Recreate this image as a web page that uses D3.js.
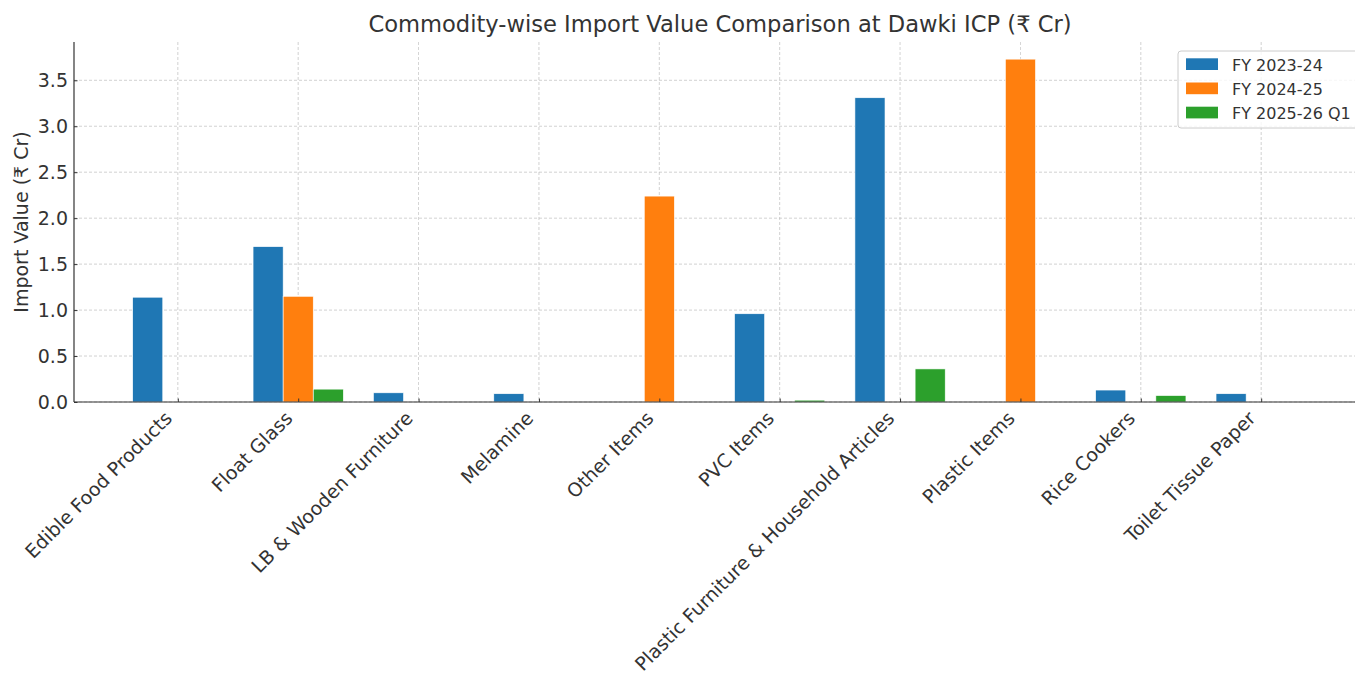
<!DOCTYPE html>
<html><head><meta charset="utf-8">
<script src="https://cdn.jsdelivr.net/npm/d3@7"></script>
<style>body{margin:0;background:#fff}svg, svg text{font-family:"DejaVu Sans",sans-serif}</style>
</head><body><svg id="c" width="1355" height="674"></svg>
<script>
const categories = ["Edible Food Products","Float Glass","LB & Wooden Furniture","Melamine","Other Items","PVC Items","Plastic Furniture & Household Articles","Plastic Items","Rice Cookers","Toilet Tissue Paper"];
const seriesNames = ["FY 2023-24","FY 2024-25","FY 2025-26 Q1"];
const fy2324 = [1.14,1.69,0.10,0.09,0,0.96,3.31,0,0.13,0.09];
const fy2425 = [0,1.15,0,0,2.24,0,0,3.73,0,0];
const fy2526 = [0,0.14,0,0,0,0.02,0.36,0,0.07,0];
const colors = ["#1f77b4","#ff7f0e","#2ca02c"];
const yTicks = [0,0.5,1.0,1.5,2.0,2.5,3.0,3.5];

const series = [fy2324, fy2425, fy2526];
const svg = d3.select("#c");
const L=74, R=1365, T=42, B=402;
const x = d3.scaleLinear().domain([-0.8625, 9.8625]).range([L,R]);
const y = d3.scaleLinear().domain([0, 3.9165]).range([B,T]);
const bw = 0.25;
const FF = "DejaVu Sans";

// grid
svg.append("g").selectAll("line").data(yTicks).join("line")
 .attr("x1",L).attr("x2",R).attr("y1",d=>y(d)).attr("y2",d=>y(d))
 .attr("stroke","#b0b0b0").attr("stroke-width",0.8).attr("stroke-dasharray","3,2").attr("opacity",0.7);
svg.append("g").selectAll("line").data(categories).join("line")
 .attr("x1",(d,i)=>x(i)).attr("x2",(d,i)=>x(i)).attr("y1",T).attr("y2",B)
 .attr("stroke","#b0b0b0").attr("stroke-width",0.8).attr("stroke-dasharray","3,2").attr("opacity",0.7);

// bars
series.forEach((s,k)=>{
  svg.append("g").selectAll("rect").data(s).join("rect")
   .attr("x",(d,i)=>x(i+(k-1)*bw-bw/2))
   .attr("width",x(bw)-x(0))
   .attr("y",d=>y(d)).attr("height",d=>B-y(d))
   .attr("fill",colors[k]).attr("stroke","#fff").attr("stroke-width",0.6);
});

// axes
const xa = svg.append("g").attr("transform",`translate(0,${B})`)
 .call(d3.axisBottom(x).tickValues(d3.range(categories.length)).tickFormat(i=>categories[i]).tickSize(-3.5).tickPadding(0));
xa.attr("font-family",FF);
xa.select(".domain").remove();
xa.selectAll(".tick line").attr("stroke","#333");
xa.selectAll("text").attr("font-size",19).attr("fill","#333")
 .attr("text-anchor","end").attr("x",0).attr("y",0).attr("dy",0)
 .attr("transform","translate(-5,17.5) rotate(-45)");
const ya = svg.append("g").attr("transform",`translate(${L},0)`)
 .call(d3.axisLeft(y).tickValues(yTicks).tickFormat(d3.format(".1f")).tickSize(-3.5).tickPadding(6));
ya.attr("font-family",FF);
ya.select(".domain").remove();
ya.selectAll(".tick line").attr("stroke","#333");
ya.selectAll("text").attr("font-size",19).attr("fill","#333");
svg.append("line").attr("x1",L).attr("x2",1355).attr("y1",B).attr("y2",B).attr("stroke","#333").attr("stroke-width",1.2);
svg.append("line").attr("x1",L).attr("x2",L).attr("y1",T).attr("y2",B).attr("stroke","#333").attr("stroke-width",1.2);

// labels
svg.append("text").attr("x",720).attr("y",32).attr("text-anchor","middle").attr("font-size",22.6).attr("fill","#333")
 .text("Commodity-wise Import Value Comparison at Dawki ICP (₹ Cr)");
svg.append("text").attr("transform",`translate(27.5,${(T+B)/2}) rotate(-90)`).attr("text-anchor","middle").attr("font-size",19).attr("fill","#333")
 .text("Import Value (₹ Cr)");

// legend
const lg = svg.append("g").attr("transform","translate(1178,51)");
lg.append("rect").attr("width",190).attr("height",77).attr("rx",3).attr("fill","#fff").attr("fill-opacity",0.8).attr("stroke","#ccc");
seriesNames.forEach((n,k)=>{
  lg.append("rect").attr("x",8).attr("y",7.3+k*24.2).attr("width",32).attr("height",11.7).attr("fill",colors[k]);
  lg.append("text").attr("x",54).attr("y",19.5+k*24.2).attr("font-size",16).attr("fill","#333").text(n);
});
</script></body></html>
